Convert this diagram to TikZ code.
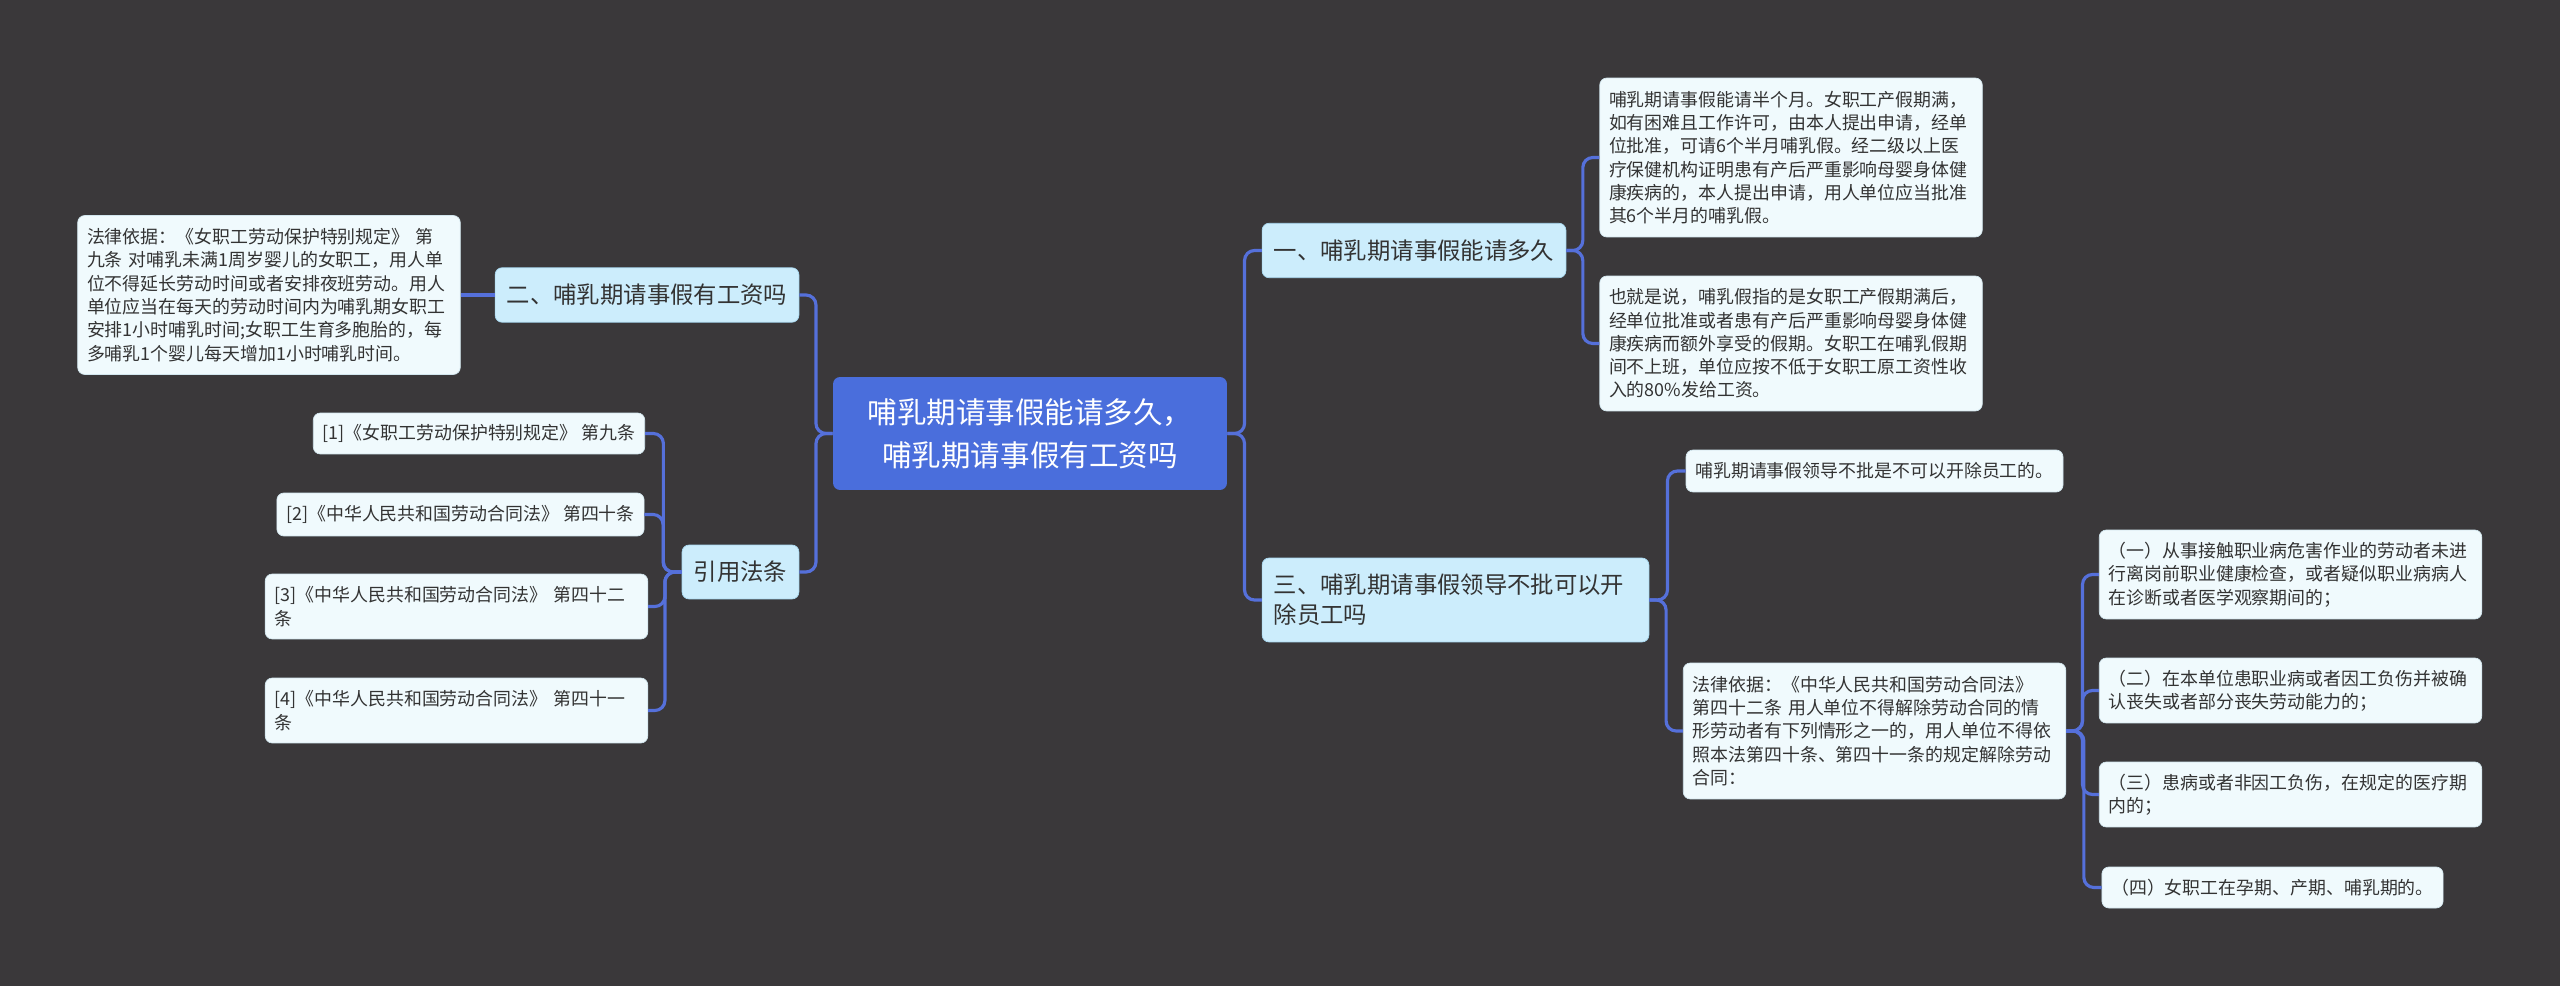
\documentclass[tikz,border=0pt]{standalone}
\usepackage{fontspec}
\setmainfont{Noto Sans CJK SC}
\usetikzlibrary{calc}
\definecolor{canvas}{HTML}{3A383A}
\definecolor{rootblue}{HTML}{4A6EDC}
\definecolor{topicblue}{HTML}{CCEDFC}
\definecolor{topicline}{HTML}{A8D8F0}
\definecolor{notefill}{HTML}{F0FAFD}
\definecolor{noteline}{HTML}{D2E6EE}
\definecolor{linkblue}{HTML}{5570DA}
\definecolor{ink}{HTML}{333333}
\tikzset{
  rootbox/.style={rectangle,rounded corners=4pt,fill=rootblue,text=white,align=center,font=\fontsize{16.8}{24.5}\selectfont,minimum width=7.88cm,minimum height=2.26cm},
  topic/.style={rectangle,rounded corners=4pt,draw=topicline,thin,fill=topicblue,text=ink,align=left,font=\fontsize{13.3}{17.1}\selectfont,inner xsep=0.234cm,minimum height=1.09cm},
  note/.style={rectangle,rounded corners=4pt,draw=noteline,thin,fill=notefill,text=ink,align=left,font=\fontsize{10.2}{13.26}\selectfont,inner xsep=0.186cm,inner ysep=3pt,minimum height=0.83cm},
  notewide/.style={note,text width=7.28cm},
  link/.style={linkblue,line width=1.8pt,rounded corners=0.2cm},
  branch/.style={to path={-| ($(\tikztostart)!.5!(\tikztotarget)$) |- (\tikztotarget)}}
}
\begin{document}
\begin{tikzpicture}[x=0.02cm,y=-0.02cm]
    \fill[canvas] (0,0) rectangle (2560,986);
    % centre
    \node[rootbox] (root) at (1030,433.5) {哺乳期请事假能请多久，\\哺乳期请事假有工资吗};
    % right side
    \node[topic] (one) at (1414,250.5) {一、哺乳期请事假能请多久};
    \node[topic,text width=7.27cm,minimum height=1.68cm] (three) at (1455.5,600) {三、哺乳期请事假领导不批可以开\\除员工吗};
    \node[notewide,minimum height=3.18cm] (oneA) at (1791,157.5) {哺乳期请事假能请半个月。女职工产假期满，\\如有困难且工作许可，由本人提出申请，经单\\位批准，可请6个半月哺乳假。经二级以上医\\疗保健机构证明患有产后严重影响母婴身体健\\康疾病的，本人提出申请，用人单位应当批准\\其6个半月的哺乳假。};
    \node[notewide,minimum height=2.70cm] (oneB) at (1791,343.5) {也就是说，哺乳假指的是女职工产假期满后，\\经单位批准或者患有产后严重影响母婴身体健\\康疾病而额外享受的假期。女职工在哺乳假期\\间不上班，单位应按不低于女职工原工资性收\\入的80\%发给工资。};
    \node[note,minimum height=0.84cm] (threeA) at (1874.5,471) {哺乳期请事假领导不批是不可以开除员工的。};
    \node[notewide,minimum height=2.72cm] (threeB) at (1874.5,731) {法律依据：《中华人民共和国劳动合同法》\\第四十二条 用人单位不得解除劳动合同的情\\形劳动者有下列情形之一的，用人单位不得依\\照本法第四十条、第四十一条的规定解除劳动\\合同：};
    \node[notewide,minimum height=1.78cm] (law1) at (2290.5,574.5) {（一）从事接触职业病危害作业的劳动者未进\\行离岗前职业健康检查，或者疑似职业病病人\\在诊断或者医学观察期间的；};
    \node[notewide,minimum height=1.30cm] (law2) at (2290.5,690.5) {（二）在本单位患职业病或者因工负伤并被确\\认丧失或者部分丧失劳动能力的；};
    \node[notewide,minimum height=1.30cm] (law3) at (2290.5,794.5) {（三）患病或者非因工负伤，在规定的医疗期\\内的；};
    \node[note,minimum height=0.82cm] (law4) at (2272.5,887.5) {（四）女职工在孕期、产期、哺乳期的。};
    % left side
    \node[topic] (two) at (647,295) {二、哺乳期请事假有工资吗};
    \node[topic,minimum height=1.08cm] (cite) at (740.5,572) {引用法条};
    \node[notewide,minimum height=3.18cm] (twoA) at (269,295) {法律依据：《女职工劳动保护特别规定》 第\\九条 对哺乳未满1周岁婴儿的女职工，用人单\\位不得延长劳动时间或者安排夜班劳动。用人\\单位应当在每天的劳动时间内为哺乳期女职工\\安排1小时哺乳时间;女职工生育多胞胎的，每\\多哺乳1个婴儿每天增加1小时哺乳时间。};
    \node[note,minimum height=0.82cm] (cite1) at (479,433.5) {[1]《女职工劳动保护特别规定》 第九条};
    \node[note,minimum height=0.86cm] (cite2) at (460.5,514.5) {[2]《中华人民共和国劳动合同法》 第四十条};
    \node[notewide,minimum height=1.30cm] (cite3) at (456.5,606.5) {[3]《中华人民共和国劳动合同法》 第四十二\\条};
    \node[notewide,minimum height=1.30cm] (cite4) at (456.5,710.5) {[4]《中华人民共和国劳动合同法》 第四十一\\条};
    % links
    \draw[link] (root.east) to[branch] (one.west);
    \draw[link] (root.east) to[branch] (three.west);
    \draw[link] (root.west) to[branch] (two.east);
    \draw[link] (root.west) to[branch] (cite.east);
    \draw[link] (one.east) to[branch] (oneA.west);
    \draw[link] (one.east) to[branch] (oneB.west);
    \draw[link] (three.east) to[branch] (threeA.west);
    \draw[link] (three.east) to[branch] (threeB.west);
    \draw[link] (threeB.east) to[branch] (law1.west);
    \draw[link] (threeB.east) to[branch] (law2.west);
    \draw[link] (threeB.east) to[branch] (law3.west);
    \draw[link] (threeB.east) to[branch] (law4.west);
    \draw[link] (two.west) -- (twoA.east);
    \draw[link] (cite.west) to[branch] (cite1.east);
    \draw[link] (cite.west) to[branch] (cite2.east);
    \draw[link] (cite.west) to[branch] (cite3.east);
    \draw[link] (cite.west) to[branch] (cite4.east);
\end{tikzpicture}
\end{document}
